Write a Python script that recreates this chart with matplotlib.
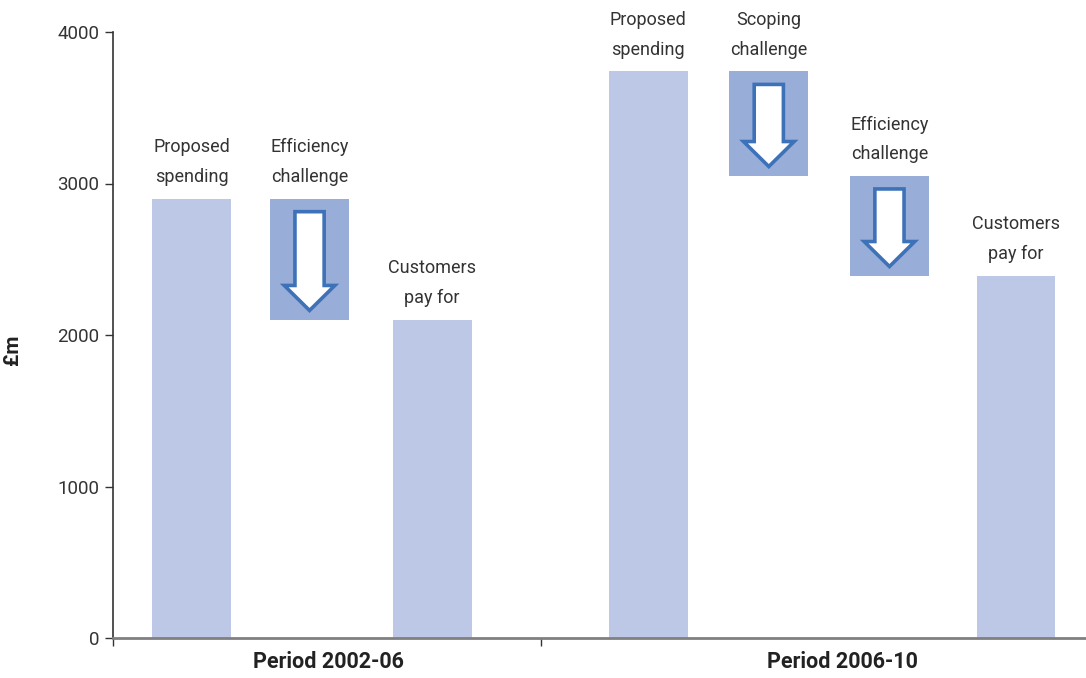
import matplotlib
matplotlib.use('Agg')
import matplotlib.pyplot as plt
import matplotlib.transforms as mtransforms
from matplotlib.patches import Polygon
from matplotlib import font_manager

# --- data (£m) ---
periods = ['Period 2002-06', 'Period 2006-10']
step_labels = ['Proposed\nspending', 'Efficiency\nchallenge', 'Customers\npay for',
               'Proposed\nspending', 'Scoping\nchallenge', 'Efficiency\nchallenge',
               'Customers\npay for']
step_kind = ['total', 'cut', 'total', 'total', 'cut', 'cut', 'total']
# (bottom, top) of each step
step_bottom = [0, 2100, 0, 0, 3050, 2390, 0]
step_top = [2900, 2900, 2100, 3740, 3740, 3050, 2390]

C_TOTAL = '#BDC8E6'
C_CUT = '#98ADD8'
C_ARROW = '#3D72B9'
C_TEXT = '#333333'

names = {f.name for f in font_manager.fontManager.ttflist}
FONT = 'Roboto' if 'Roboto' in names else 'DejaVu Sans'
plt.rcParams['font.family'] = FONT

fig = plt.figure(figsize=(10.86, 6.78), dpi=100)
ax = fig.add_axes([113 / 1086, 40 / 678, 973 / 1086, 606 / 678])

xpos = [0.807, 2.02, 3.28, 5.50, 6.74, 7.98, 9.28]
width = 0.81

for x, lab, kind, lo, hi in zip(xpos, step_labels, step_kind, step_bottom, step_top):
    color = C_TOTAL if kind == 'total' else C_CUT
    ax.bar(x, hi - lo, width, bottom=lo, color=color, linewidth=0, zorder=2)
    ax.annotate(lab, xy=(x, hi), xytext=(0, 9), textcoords='offset points',
                ha='center', va='bottom', fontsize=13, color=C_TEXT,
                linespacing=1.85)
    if kind == 'cut':
        # hollow down arrow inside the reduction box
        y_top = hi - 86
        y_tip = lo + 62
        y_head = y_tip + 165
        sw, hw = 0.15, 0.26
        pts = [(x - sw, y_top), (x + sw, y_top), (x + sw, y_head),
               (x + hw, y_head), (x, y_tip), (x - hw, y_head), (x - sw, y_head)]
        ax.add_patch(Polygon(pts, closed=True, facecolor='white',
                             edgecolor=C_ARROW, linewidth=2.6, zorder=3,
                             joinstyle='miter'))

ax.set_xlim(0, 10)
ax.set_ylim(0, 4000)
ax.set_yticks([0, 1000, 2000, 3000, 4000])
ax.set_xticks([0, 4.40])
ax.set_xticklabels([])

ax.spines['top'].set_visible(False)
ax.spines['right'].set_visible(False)
ax.spines['left'].set_color('#333333')
ax.spines['left'].set_linewidth(1.2)
ax.spines['bottom'].set_color('#808080')
ax.spines['bottom'].set_linewidth(2)
ax.spines['bottom'].set_zorder(4)
ax.tick_params(axis='y', length=6, width=1, color='#333333',
               labelsize=13.5, labelcolor=C_TEXT, pad=4)
ax.tick_params(axis='x', length=6, width=1, color='#333333')

trans = mtransforms.blended_transform_factory(ax.transData, ax.transAxes)
for px, name in zip([2.21, 7.50], periods):
    ax.text(px, -0.04, name, transform=trans, ha='center', va='center',
            fontsize=15.5, fontweight='bold', color='#222222')

ax.set_ylabel('£m', fontsize=15, fontweight='bold', color='#222222')
ax.yaxis.set_label_coords(-(113 - 22) / 973, 0.475)

fig.savefig('out.png', dpi=100)
